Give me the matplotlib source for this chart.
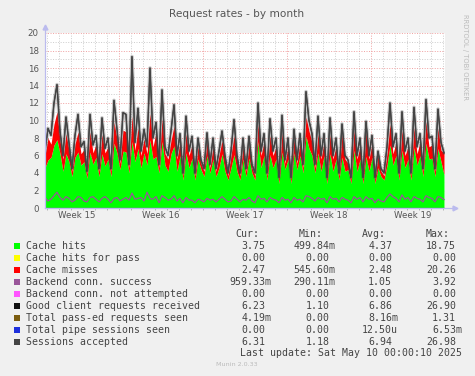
import numpy as np
import matplotlib
matplotlib.use("Agg")
import matplotlib.pyplot as plt
from matplotlib.patches import Rectangle

# samples every 6 hours, first sample = left edge of the graph
sessions = [6.5, 9.1, 8.3, 12.0, 14.1, 8.8, 6.0, 10.4, 7.5, 4.5,
            8.3, 10.7, 7.0, 7.6, 4.2, 10.7, 7.2, 8.3, 4.5, 10.3,
            6.8, 8.0, 4.5, 12.3, 9.0, 5.5, 10.9, 10.7, 5.0, 17.3,
            7.5, 11.4, 6.5, 9.0, 7.0, 16.0, 8.0, 9.8, 5.0, 13.5,
            7.0, 6.0, 8.8, 11.8, 6.0, 8.5, 4.0, 10.5, 6.5, 8.2,
            4.0, 8.0, 5.5, 4.5, 8.6, 5.0, 8.0, 4.5, 6.5, 8.8,
            6.0, 4.0, 6.5, 10.1, 6.0, 4.0, 8.0, 4.5, 8.2, 5.0,
            4.0, 12.0, 6.5, 8.5, 4.0, 10.2, 6.5, 8.0, 3.5, 10.6,
            5.5, 8.0, 3.5, 9.0, 5.5, 8.5, 5.0, 13.3, 10.0, 8.5,
            5.0, 10.5, 6.0, 8.5, 3.5, 10.3, 6.0, 8.0, 4.0, 9.6,
            6.0, 5.5, 3.5, 11.0, 6.0, 8.0, 3.5, 9.9, 6.0, 8.3,
            3.5, 6.5, 4.5, 4.0, 7.0, 12.0, 7.0, 8.5, 4.0, 11.0,
            6.5, 8.0, 4.0, 11.5, 7.0, 8.5, 4.5, 12.4, 8.0, 8.2,
            4.5, 11.3, 7.5, 6.3]
cache_hits = [4.6, 5.5, 5.8, 7.2, 7.8, 6.2, 4.2, 6.2, 5.3, 3.6,
              5.8, 6.4, 4.9, 5.3, 3.4, 6.4, 5.0, 5.8, 3.6, 6.2,
              4.8, 5.6, 3.6, 7.4, 6.3, 4.4, 6.5, 6.4, 4.0, 7.6,
              5.3, 6.8, 4.6, 6.3, 4.9, 7.8, 5.6, 5.9, 4.0, 7.6,
              4.9, 4.2, 6.2, 7.1, 4.2, 6.0, 3.2, 6.3, 4.6, 5.7,
              3.2, 5.6, 4.4, 3.6, 6.0, 4.0, 5.6, 3.6, 4.6, 6.2,
              4.2, 3.2, 4.6, 6.1, 4.2, 3.2, 5.6, 3.6, 5.7, 4.0,
              3.2, 7.6, 4.6, 6.0, 3.2, 6.1, 4.6, 5.6, 2.8, 6.4,
              4.4, 5.6, 2.8, 6.3, 4.4, 6.0, 4.0, 8.2, 6.8, 6.0,
              4.0, 6.3, 4.2, 6.0, 2.8, 6.2, 4.2, 5.6, 3.2, 5.8,
              4.2, 4.4, 2.8, 6.6, 4.2, 5.6, 2.8, 5.9, 4.2, 5.8,
              2.8, 4.6, 3.6, 3.2, 4.9, 7.2, 4.9, 6.0, 3.2, 6.6,
              4.6, 5.6, 3.2, 6.9, 4.9, 6.0, 3.6, 7.4, 5.6, 5.7,
              3.6, 6.8, 5.3, 3.8]
cache_misses = [1.4, 2.5, 1.5, 2.4, 3.2, 1.5, 1.4, 2.3, 1.3, 0.6,
                1.5, 2.3, 1.3, 1.4, 0.5, 2.3, 1.3, 1.5, 0.6, 2.2,
                1.5, 1.4, 0.6, 2.4, 1.6, 0.7, 2.4, 2.3, 0.6, 2.9,
                1.3, 2.4, 1.4, 1.6, 1.3, 3.0, 1.4, 2.7, 0.6, 2.6,
                1.3, 1.4, 1.5, 2.3, 1.4, 1.5, 0.5, 2.2, 1.4, 1.5,
                0.5, 1.4, 0.7, 0.6, 1.6, 0.6, 1.4, 0.6, 1.4, 1.5,
                1.4, 0.5, 1.4, 2.2, 1.4, 0.5, 1.4, 0.6, 1.5, 0.6,
                0.5, 2.0, 1.4, 1.5, 0.5, 2.2, 1.4, 1.4, 0.5, 2.2,
                0.7, 1.4, 0.5, 1.6, 0.7, 1.5, 0.6, 2.2, 2.0, 1.5,
                0.6, 2.2, 1.4, 1.5, 0.5, 2.2, 1.4, 1.4, 0.5, 2.6,
                1.4, 0.7, 0.5, 2.3, 1.4, 1.4, 0.5, 2.8, 1.4, 1.5,
                0.5, 1.4, 0.6, 0.5, 1.3, 2.4, 1.3, 1.5, 0.5, 2.3,
                1.4, 1.4, 0.5, 2.3, 1.3, 1.5, 0.6, 2.5, 1.4, 1.5,
                0.6, 2.3, 1.3, 2.5]
backend_success = [1.2, 0.8, 1.0, 1.4, 1.8, 1.2, 0.9, 1.3, 1.1, 0.7,
                   0.9, 1.3, 1.2, 0.8, 0.7, 1.2, 1.3, 1.0, 0.7, 1.1,
                   1.3, 1.0, 0.6, 1.1, 1.2, 0.8, 1.0, 1.2, 0.9, 1.7,
                   1.0, 1.1, 1.2, 0.8, 1.8, 1.1, 1.0, 1.3, 0.6, 1.4,
                   1.2, 0.9, 1.0, 1.4, 0.8, 1.1, 0.6, 1.2, 0.9, 0.9,
                   0.6, 1.0, 0.9, 0.7, 1.1, 0.9, 1.0, 0.7, 1.0, 1.3,
                   1.0, 0.7, 0.8, 1.3, 1.0, 0.7, 1.0, 0.9, 1.2, 0.8,
                   0.6, 1.4, 1.0, 1.1, 0.7, 1.2, 1.0, 0.9, 0.6, 1.2,
                   0.9, 1.0, 0.6, 1.2, 0.9, 1.0, 0.7, 1.4, 1.3, 1.1,
                   0.8, 1.2, 1.0, 1.1, 0.6, 1.3, 1.0, 1.1, 0.7, 1.2,
                   1.0, 0.9, 0.6, 1.3, 1.0, 1.2, 0.7, 1.3, 1.0, 1.1,
                   0.6, 1.0, 0.8, 0.7, 1.2, 1.6, 1.3, 1.1, 0.7, 1.5,
                   1.0, 1.2, 0.7, 1.3, 1.1, 1.0, 0.7, 1.4, 1.2, 1.1,
                   0.7, 1.3, 1.2, 0.96]
# client requests sit right under the sessions line at this resolution
client_requests = sessions

week_labels = ["Week 15", "Week 16", "Week 17", "Week 18", "Week 19"]

legend_names = ["Cache hits", "Cache hits for pass", "Cache misses",
                "Backend conn. success", "Backend conn. not attempted",
                "Good client requests received", "Total pass-ed requests seen",
                "Total pipe sessions seen", "Sessions accepted"]
legend_colors = ["#00FF00", "#FFFF00", "#FF0000", "#995599", "#FF55FF",
                 "#111111", "#7B5D0F", "#1E30DC", "#444444"]
cur = ["3.75", "0.00", "2.47", "959.33m", "0.00", "6.23", "4.19m", "0.00", "6.31"]
mins = ["499.84m", "0.00", "545.60m", "290.11m", "0.00", "1.10", "0.00", "0.00", "1.18"]
avg = ["4.37", "0.00", "2.48", "1.05", "0.00", "6.86", "8.16m", "12.50u", "6.94"]
maxs = ["18.75", "0.00", "20.26", "3.92", "0.00", "26.90", "1.31", "6.53m", "26.98"]

W, H = 475, 376
def fx(px):
    return px / W
def fy(py):
    return 1 - py / H

hours = np.arange(len(sessions)) * 6
zero = np.zeros(len(hours))
hits = np.array(cache_hits)
misses = np.array(cache_misses)

fig = plt.figure(figsize=(W / 100, H / 100), dpi=100, facecolor="#F0F0F0")
ax = fig.add_axes([fx(45), fy(208), 400 / W, 175 / H])
ax.set_facecolor("white")
ax.set_xlim(0, 800)
ax.set_ylim(0, 20)

# grid
for h in range(4, 800, 24):
    major = (h - 148) % 168 == 0
    ax.axvline(h, color="#F0A0A0" if major else "#CCCCCC", lw=0.7,
               dashes=(1, 1.6), zorder=0)
for v in range(1, 21):
    ax.axhline(v, color="#F0A0A0" if v % 2 == 0 else "#CCCCCC", lw=0.7,
               dashes=(1, 1.6), zorder=0)

# stacked areas
ax.fill_between(hours, 0, hits, color=legend_colors[0], lw=0, zorder=2)
ax.fill_between(hours, hits, hits + zero, color=legend_colors[1], lw=0, zorder=2)
ax.fill_between(hours, hits, hits + misses, color=legend_colors[2], lw=0, zorder=2)

# lines
ax.plot(hours, backend_success, color=legend_colors[3], lw=0.9, zorder=3)
ax.plot(hours, zero, color=legend_colors[4], lw=0.8, zorder=3)
ax.plot(hours, client_requests, color=legend_colors[5], lw=0.7, zorder=3)
ax.plot(hours, zero, color=legend_colors[6], lw=0.8, zorder=3)
ax.plot(hours, zero, color=legend_colors[7], lw=0.8, zorder=3)
# soft shading like rrdtool's anti-aliased 1px line
ax.plot(hours, sessions, color=legend_colors[8], lw=2.6, alpha=0.3, zorder=4)
ax.plot(hours, sessions, color=legend_colors[8], lw=1.0, zorder=4)

for s in ax.spines.values():
    s.set_visible(False)

axis_c = "#BBBBEE"
ax.plot([0, 0], [0, 1.03], color=axis_c, lw=0.9, transform=ax.transAxes, clip_on=False, zorder=5)
ax.plot([0, 1.02], [0, 0], color=axis_c, lw=0.9, transform=ax.transAxes, clip_on=False, zorder=5)
ax.plot([0], [1.035], marker="^", ms=3.5, color=axis_c, transform=ax.transAxes, clip_on=False)
ax.plot([1.025], [0], marker=">", ms=3.5, color=axis_c, transform=ax.transAxes, clip_on=False)

ax.set_yticks(range(0, 21, 2))
ax.tick_params(axis="y", length=0, pad=4.5, labelsize=6.2, labelcolor="#555555")
ax.set_xticks([64 + 168 * i for i in range(len(week_labels))])
ax.set_xticklabels(week_labels)
ax.tick_params(axis="x", length=0, pad=2.5, labelsize=6.2, labelcolor="#555555")
ax.set_xticks(range(4, 800, 24), minor=True)
ax.tick_params(axis="x", which="minor", length=1.5, width=0.6, color="#AAAAAA")

fig.text(fx(237), fy(14), "Request rates - by month", ha="center", va="center",
         fontsize=7.6, color="#555555")
fig.text(fx(465), fy(57.5), "RRDTOOL / TOBI OETIKER", ha="center", va="center",
         rotation=270, fontsize=4.9, color="#BBBBBB")

mono_size = 7.15
char_w = 0.602 * mono_size * 100 / 72
mono = dict(family="DejaVu Sans Mono", fontsize=mono_size, color="#444444", va="center")
for lbl, px in [("Cur:", 235), ("Min:", 298.3), ("Avg:", 361.7), ("Max:", 426)]:
    fig.text(fx(px), fy(234), lbl, ha="left", **mono)

def cell(edge, val, y):
    # digits end at edge, an SI suffix (m, u) goes one column after it
    n = len(val) - 1 if val[-1] in "mu" else len(val)
    fig.text(fx(edge - n * char_w), fy(y), val, ha="left", **mono)

for i, name in enumerate(legend_names):
    y = 245.7 + 12 * i
    fig.add_artist(Rectangle((fx(14), fy(y + 3)), 6 / W, 6 / H, transform=fig.transFigure,
                             facecolor=legend_colors[i], edgecolor="none"))
    fig.text(fx(26.2), fy(y), name, ha="left", **mono)
    cell(265.5, cur[i], y)
    cell(329.5, mins[i], y)
    cell(392, avg[i], y)
    cell(456, maxs[i], y)

fig.text(fx(462), fy(353.5), "Last update: Sat May 10 00:00:10 2025", ha="right", **mono)
fig.text(fx(237), fy(364), "Munin 2.0.33", ha="center", va="center", fontsize=4.6, color="#BBBBBB")

fig.savefig("out.png", dpi=100, facecolor=fig.get_facecolor())
